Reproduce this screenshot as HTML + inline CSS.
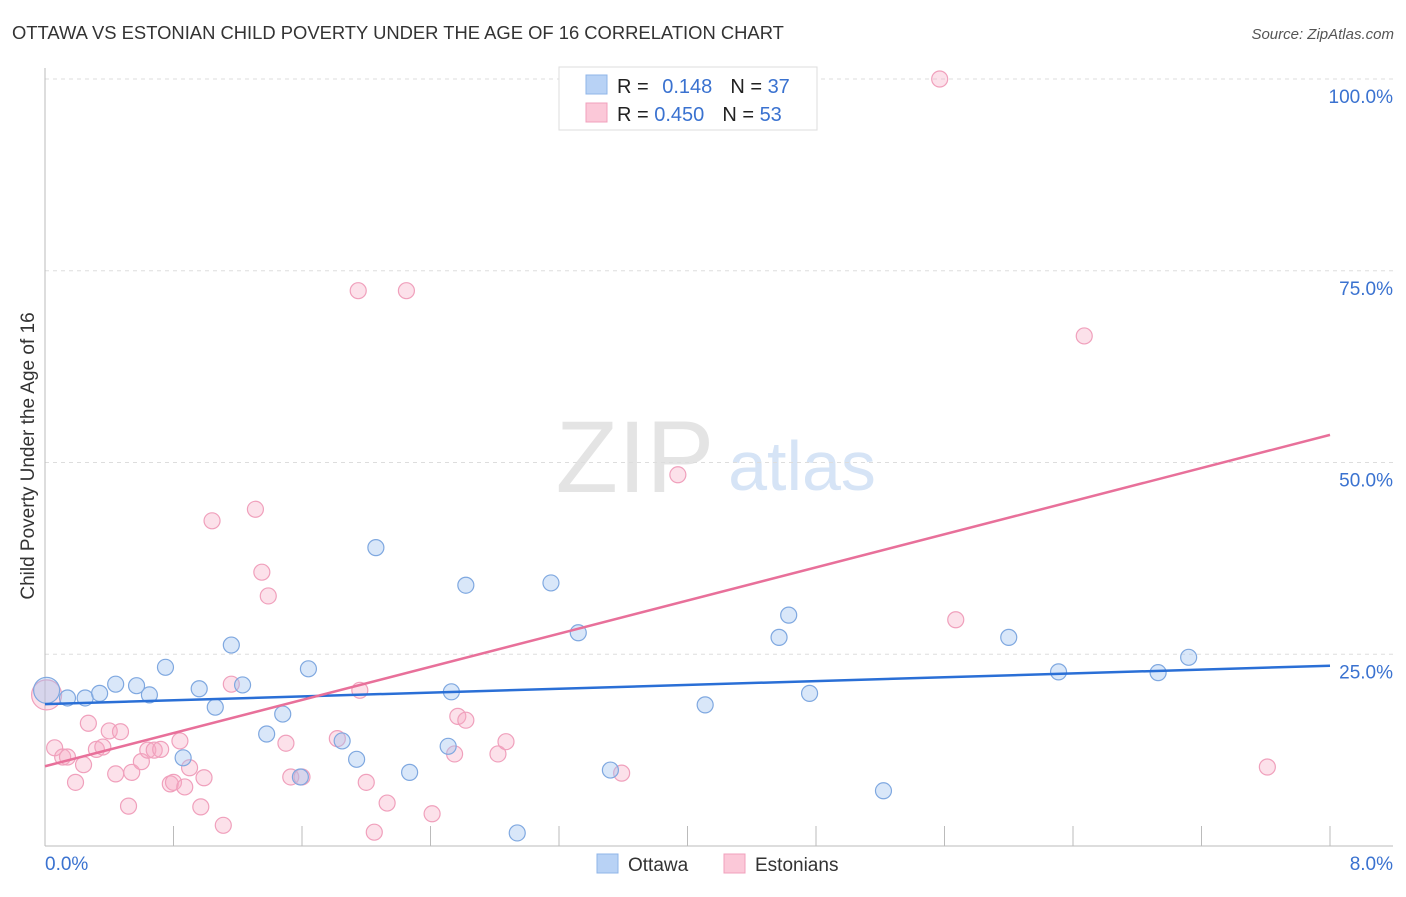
<!DOCTYPE html>
<html><head><meta charset="utf-8"><style>
body{margin:0;background:#fff;font-family:"Liberation Sans",sans-serif;}
svg text{font-family:"Liberation Sans",sans-serif;}
</style></head><body>
<svg id="c" width="1406" height="892" xmlns="http://www.w3.org/2000/svg">
<text x="12" y="39" font-size="18.4" fill="#333">OTTAWA VS ESTONIAN CHILD POVERTY UNDER THE AGE OF 16 CORRELATION CHART</text>
<text x="1394" y="39" font-size="15" fill="#555" text-anchor="end" font-style="italic">Source: ZipAtlas.com</text>
<text x="635" y="492" font-size="102" fill="#e4e4e4" font-family="Liberation Serif" text-anchor="middle">ZIP</text>
<text x="802" y="490" font-size="70" fill="#d6e4f6" text-anchor="middle">atlas</text>
<g id="grid"></g><g id="axes"></g><g id="pts"></g><g id="lines"></g>
<text transform="translate(34,456) rotate(-90)" font-size="19" fill="#333" text-anchor="middle">Child Poverty Under the Age of 16</text>
<g>
<rect x="559" y="67" width="258" height="63" fill="#fff" stroke="#ddd"/>
<rect x="586" y="75" width="21" height="19" fill="#b8d2f5" stroke="#8fb5e8"/>
<rect x="586" y="103" width="21" height="19" fill="#fbc8d8" stroke="#f0a0bc"/>
<text x="617" y="93" font-size="20" fill="#222">R = <tspan fill="#3a72d0" dx="8">0.148</tspan><tspan dx="18">N = </tspan><tspan fill="#3a72d0">37</tspan></text>
<text x="617" y="121" font-size="20" fill="#222">R = <tspan fill="#3a72d0">0.450</tspan><tspan dx="18">N = </tspan><tspan fill="#3a72d0">53</tspan></text>
</g>
<g>
<rect x="597" y="854" width="21" height="19" fill="#b8d2f5" stroke="#8fb5e8"/>
<text x="628" y="871" font-size="19" fill="#333">Ottawa</text>
<rect x="724" y="854" width="21" height="19" fill="#fbc8d8" stroke="#f0a0bc"/>
<text x="755" y="871" font-size="19" fill="#333">Estonians</text>
</g>
</svg>
<script>
const xTicks=[0,0.8,1.6,2.4,3.2,4.0,4.8,5.6,6.4,7.2,8.0];
const yTicks=[25,50,75,100];
const yTickLabels=["25.0%","50.0%","75.0%","100.0%"];
const ottX=[0.01,0.14,0.25,0.34,0.44,0.57,0.65,0.75,0.86,0.96,1.06,1.16,1.23,1.38,1.48,1.59,1.64,1.85,1.94,2.06,2.27,2.51,2.53,2.62,2.94,3.15,3.32,3.52,4.11,4.57,4.63,4.76,5.22,6.00,6.31,6.93,7.12];
const ottY=[20.3,19.3,19.3,19.9,21.1,20.9,19.7,23.3,11.5,20.5,18.1,26.2,21.0,14.6,17.2,9.0,23.1,13.7,11.3,38.9,9.6,13.0,20.1,34.0,1.7,34.3,27.8,9.9,18.4,27.2,30.1,19.9,7.2,27.2,22.7,22.6,24.6];
const estX=[0.01,0.06,0.11,0.14,0.19,0.24,0.27,0.32,0.36,0.40,0.44,0.47,0.52,0.54,0.60,0.64,0.68,0.72,0.78,0.80,0.84,0.87,0.90,0.97,0.99,1.04,1.11,1.16,1.31,1.35,1.39,1.50,1.53,1.60,1.82,1.95,1.96,2.00,2.05,2.13,2.25,2.41,2.55,2.57,2.62,2.82,2.87,3.59,3.94,5.57,5.67,6.47,7.61];
const estY=[19.7,12.8,11.6,11.6,8.3,10.6,16.0,12.6,12.9,15.0,9.4,14.9,5.2,9.6,11.0,12.5,12.5,12.6,8.1,8.3,13.7,7.7,10.2,5.1,8.9,42.4,2.7,21.1,43.9,35.7,32.6,13.4,9.0,9.0,14.0,72.4,20.3,8.3,1.8,5.6,72.4,4.2,12.0,16.9,16.4,12.0,13.6,9.5,48.4,100,29.5,66.5,10.3];
const ottTrend=[18.5,23.5];
const estTrend=[10.4,53.6];
const NS="http://www.w3.org/2000/svg";
const X=v=>45+v/8*1285, Y=v=>846-v/100*767;
function mk(p,t,a){const e=document.createElementNS(NS,t);for(const k in a)e.setAttribute(k,a[k]);p.appendChild(e);return e;}
const grid=document.getElementById('grid'),axes=document.getElementById('axes'),pts=document.getElementById('pts'),lines=document.getElementById('lines');
yTicks.forEach((t,i)=>{
 const l=mk(grid,'line',{x1:45,x2:1393,y1:Y(t),y2:Y(t),stroke:'#ddd','stroke-dasharray':'4,4'});
 
 
 const tx=mk(axes,'text',{x:1393,y:Y(t)+24,'font-size':19,fill:'#3a72d0','text-anchor':'end'});tx.textContent=yTickLabels[i];
 
 
});
let a=mk(axes,'line',{x1:45,x2:45,y1:68,y2:846,stroke:'#bbb'});


a=mk(axes,'line',{x1:45,x2:1393,y1:846,y2:846,stroke:'#bbb'});


xTicks.forEach(t=>{const l=mk(axes,'line',{x1:X(t),x2:X(t),y1:826,y2:846,stroke:'#bbb'});
 
 });
let t0=mk(axes,'text',{x:45,y:870,'font-size':19,fill:'#3a72d0'});t0.textContent='0.0%';


let t1=mk(axes,'text',{x:1393,y:870,'font-size':19,fill:'#3a72d0','text-anchor':'end'});t1.textContent='8.0%';


estX.forEach((x,i)=>{const c=mk(pts,'circle',{cx:X(x),cy:Y(estY[i]),r:i==0?15:8,fill:'rgba(246,170,196,0.35)',stroke:'#f0a0bc','stroke-width':1.2});
 
 });
ottX.forEach((x,i)=>{const c=mk(pts,'circle',{cx:X(x),cy:Y(ottY[i]),r:i==0?13:8,fill:'rgba(160,196,240,0.4)',stroke:'#7fa8e0','stroke-width':1.2});
 
 });
let l1=mk(lines,'line',{x1:X(0),y1:Y(ottTrend[0]),x2:X(8),y2:Y(ottTrend[1]),stroke:'#2a6fd6','stroke-width':2.5});


let l2=mk(lines,'line',{x1:X(0),y1:Y(estTrend[0]),x2:X(8),y2:Y(estTrend[1]),stroke:'#e8709a','stroke-width':2.5});


</script>
</body></html>
